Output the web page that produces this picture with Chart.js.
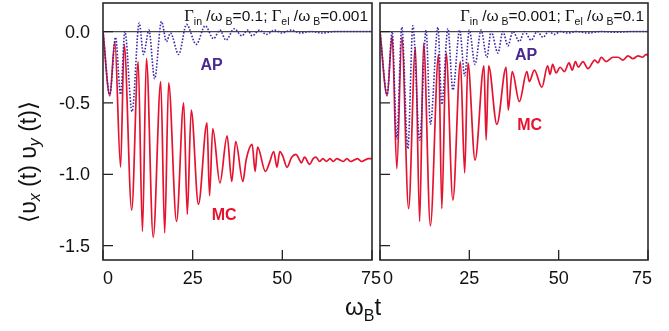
<!DOCTYPE html>
<html>
<head>
<meta charset="utf-8">
<script src="https://cdn.jsdelivr.net/npm/chart.js@4.4.0/dist/chart.umd.min.js"></script>
<style>
html, body { margin: 0; padding: 0; background: #fff; }
#wrap { position: relative; width: 669px; height: 331px; overflow: hidden; }
#cLeft { position: absolute; left: 0; top: 0; }
#cRight { position: absolute; left: 376px; top: 0; }
#xTitle { position: absolute; left: 300px; width: 126px; top: 295px; text-align: center;
          font: 24px "Liberation Sans", Arial, sans-serif; line-height: 24px; color: #111; }
#xTitle span { font-size: 16px; position: relative; top: 6px; }
</style>
</head>
<body>
<div id="wrap">
  <canvas id="cLeft" width="390" height="331"></canvas>
  <canvas id="cRight" width="293" height="331"></canvas>
  <div id="xTitle">ω<span>B</span>t</div>
</div>
<script>
// axes
const xTicks = [0, 25, 50, 75];
const yTicks = [-1.5, -1.0, -0.5, 0.0];

// left panel: Γin/ωB=0.1, Γel/ωB=0.001  ([ωB t, <vx vy>])
const leftMC = [[0,0],[1.9,-0.45],[3.3,-0.07],[4.9,-0.95],[5.9,-0.09],[8.0,-1.25],[9.8,-0.21],[11.0,-1.40],
  [12.1,-0.19],[14.0,-1.44],[16.1,-0.35],[17.2,-1.41],[18.3,-0.36],[20.5,-1.33],[22.5,-0.50],[23.5,-1.28],
  [24.6,-0.55],[26.6,-1.21],[29.0,-0.64],[29.7,-1.15],[30.6,-0.68],[32.6,-1.06],[34.6,-0.73],[35.9,-1.05],
  [37.0,-0.77],[39.0,-1.05],[39.9,-0.90],[41.6,-0.79],[42.4,-0.98],[43.1,-0.81],[45.3,-0.98],[46.4,-0.92],
  [47.6,-0.84],[48.5,-0.95],[49.3,-0.84],[50.1,-0.87],[51.3,-0.95],[52.6,-0.88],[53.8,-0.86],[54.6,-0.89],
  [55.3,-0.92],[56.2,-0.88],[57.6,-0.93],[58.6,-0.89],[59.4,-0.88],[60.4,-0.91],[61.3,-0.89],[62.3,-0.91],
  [63.3,-0.89],[64.2,-0.91],[65.2,-0.89],[66.1,-0.90],[67.0,-0.91],[68.0,-0.89],[69.0,-0.91],[70.0,-0.90],
  [71.0,-0.89],[72.0,-0.91],[73.0,-0.90],[74.0,-0.89],[75.0,-0.89]];
const leftAP = [[0,0],[1.9,-0.44],[3.5,-0.04],[4.9,-0.44],[6.1,0.0],[8.1,-0.56],[10.1,0.06],[11.3,-0.16],
  [12.8,0.01],[14.4,-0.33],[16.3,0.07],[17.7,-0.07],[18.8,-0.01],[21.1,-0.16],[23.3,0.05],[26.0,-0.09],
  [28.5,0.04],[30.8,-0.05],[32.6,0.01],[34.3,-0.06],[36.6,0.02],[38.7,-0.03],[40.3,0.01],[41.6,-0.03],
  [43.6,0.01],[45.6,-0.02],[47.8,0.01],[50.0,-0.01],[52.5,0.01],[55.0,-0.01],[58.0,0.0],[61.0,-0.01],
  [65.0,0.0],[70.0,0.0],[75.0,0.0]];

// right panel: Γin/ωB=0.001, Γel/ωB=0.1
const rightMC = [[0,0],[2.0,-0.45],[3.4,-0.03],[4.7,-0.96],[6.1,-0.04],[8.0,-1.24],[9.9,-0.11],[11.1,-1.33],
  [12.2,-0.08],[14.1,-1.36],[16.4,-0.16],[17.3,-1.24],[18.5,-0.15],[20.4,-1.18],[22.5,-0.21],[23.7,-0.99],
  [24.6,-0.22],[26.6,-0.90],[29.1,-0.24],[29.7,-0.76],[30.4,-0.24],[32.7,-0.65],[35.3,-0.25],[35.9,-0.55],
  [37.0,-0.28],[39.0,-0.49],[41.1,-0.28],[41.8,-0.35],[43.2,-0.27],[45.3,-0.39],[46.9,-0.24],[47.6,-0.30],
  [48.3,-0.23],[49.3,-0.29],[50.4,-0.25],[51.6,-0.28],[52.9,-0.22],[53.8,-0.27],[54.7,-0.21],[55.5,-0.25],
  [56.8,-0.21],[58.2,-0.26],[60.1,-0.20],[61.0,-0.22],[61.9,-0.18],[63.3,-0.21],[65.2,-0.18],[66.6,-0.18],
  [68.0,-0.20],[69.4,-0.17],[70.8,-0.19],[72.2,-0.17],[73.5,-0.18],[74.5,-0.16],[75.0,-0.17]];
const rightAP = [[0,0],[2.0,-0.44],[3.4,0.0],[4.7,-0.75],[6.1,0.03],[7.8,-0.82],[9.2,0.04],[11.1,-0.76],
  [12.9,0.01],[14.1,-0.65],[16.2,0.03],[17.3,-0.51],[19.0,0.02],[20.4,-0.41],[22.3,0.01],[23.7,-0.31],
  [25.0,0.01],[26.6,-0.23],[28.3,0.01],[29.9,-0.18],[31.1,0.0],[33.0,-0.15],[34.4,0.0],[35.8,-0.10],
  [37.2,0.0],[39.0,-0.07],[40.4,0.0],[42.3,-0.06],[44.0,0.0],[45.6,-0.04],[47.2,0.0],[48.8,-0.02],
  [50.5,0.0],[52.5,-0.01],[55.0,0.0],[58.0,-0.01],[62.0,0.0],[66.0,-0.005],[70.0,0.0],[75.0,0.0]];

const zeroLine = [[0,0],[75,0]];

const RED = '#e5132f';
const PURPLE = '#3b2ba8';
const LABEL_PURPLE = '#47298f';
const SANS = '"Liberation Sans", Arial, sans-serif';
const SERIF = '"Liberation Serif", "Times New Roman", serif';

function pts(arr) { return arr.map(p => ({ x: p[0], y: p[1] })); }

// draw a run of text pieces (with subscripts)
function drawRich(ctx, parts, x, y, align) {
    let total = 0;
    parts.forEach(p => { ctx.font = p.f; total += ctx.measureText(p.t).width; });
    let cx = align === 'right' ? x - total : (align === 'center' ? x - total / 2 : x);
    ctx.textAlign = 'left';
    parts.forEach(p => {
        ctx.font = p.f;
        ctx.fillText(p.t, cx, y + (p.dy || 0));
        cx += ctx.measureText(p.t).width;
    });
}

function header(a, b) {
    const main = '15.5px ' + SANS, sub = '10.5px ' + SANS, gam = '16.5px ' + SERIF;
    return [
        { t: 'Γ', f: gam }, { t: 'in', f: sub, dy: 4 }, { t: ' /', f: main }, { t: 'ω', f: main },
        { t: ' B', f: sub, dy: 4 }, { t: '=' + a + '; ', f: main },
        { t: 'Γ', f: gam }, { t: 'el', f: sub, dy: 4 }, { t: ' /', f: main }, { t: 'ω', f: main },
        { t: ' B', f: sub, dy: 4 }, { t: '=' + b, f: main }
    ];
}

const framePlugin = {
    id: 'frame',
    afterDatasetsDraw(chart, args, opts) {
        const { ctx, chartArea: a, scales: { x, y } } = chart;
        ctx.save();
        // inward tick marks
        ctx.strokeStyle = '#222';
        ctx.lineWidth = 1.3;
        ctx.beginPath();
        xTicks.forEach(v => {
            const px = x.getPixelForValue(v);
            ctx.moveTo(px, a.bottom); ctx.lineTo(px, a.bottom - 10);
        });
        yTicks.forEach(v => {
            const py = y.getPixelForValue(v);
            ctx.moveTo(a.left, py); ctx.lineTo(a.left + 10, py);
        });
        ctx.stroke();
        // box
        ctx.lineWidth = 1.6;
        ctx.strokeStyle = '#2a2a2a';
        ctx.strokeRect(a.left, a.top, a.right - a.left, a.bottom - a.top);
        // x tick labels
        ctx.fillStyle = '#111';
        ctx.font = '18px ' + SANS;
        ctx.textAlign = 'center';
        ctx.textBaseline = 'alphabetic';
        xTicks.forEach((v, i) => {
            let px = x.getPixelForValue(v);
            if (i === 0) px += opts.firstShift;
            if (i === xTicks.length - 1) px += opts.lastShift;
            ctx.fillText(String(v), px, a.bottom + 24);
        });
        // y tick labels
        if (opts.yLabels) {
            ctx.textAlign = 'right';
            ctx.textBaseline = 'middle';
            yTicks.forEach(v => {
                ctx.fillText(v.toFixed(1), a.left - 13, y.getPixelForValue(v) + 1);
            });
        }
        // header
        ctx.textBaseline = 'alphabetic';
        drawRich(ctx, opts.header, a.right - 4, a.top + 18, 'right');
        // series labels
        ctx.font = 'bold 16px ' + SANS;
        ctx.textAlign = 'center';
        ctx.textBaseline = 'middle';
        opts.labels.forEach(l => {
            ctx.fillStyle = l.color;
            ctx.fillText(l.text, x.getPixelForValue(l.x), y.getPixelForValue(l.y));
        });
        // y title (left panel only)
        if (opts.yTitle) {
            ctx.translate(30, 162);
            ctx.rotate(-Math.PI / 2);
            ctx.fillStyle = '#111';
            ctx.textBaseline = 'middle';
            const big = '23px ' + SANS, small = 'italic 16px ' + SANS;
            drawRich(ctx, [
                { t: '⟨υ', f: big }, { t: 'x', f: small, dy: 6 }, { t: ' (t) υ', f: big },
                { t: 'y', f: small, dy: 6 }, { t: ' (t)⟩', f: big }
            ], 0, 0, 'center');
        }
        ctx.restore();
    }
};

function makePanel(id, mc, ap, opts) {
    const ctx = document.getElementById(id);
    return new Chart(ctx, {
        type: 'line',
        data: {
            datasets: [
                { data: pts(zeroLine), borderColor: '#4a4a4a', borderWidth: 1.3, order: 3 },
                { data: pts(mc), borderColor: RED, borderWidth: 1.7, cubicInterpolationMode: 'monotone', order: 2 },
                { data: pts(ap), borderColor: PURPLE, borderWidth: 1.6, borderDash: [1.6, 1.6],
                  borderCapStyle: 'butt', cubicInterpolationMode: 'monotone', order: 1 }
            ]
        },
        options: {
            responsive: false,
            animation: false,
            events: [],
            layout: { padding: { top: 3, right: opts.padRight, left: 0, bottom: 0 } },
            elements: { point: { radius: 0 }, line: { tension: 0.3, borderJoinStyle: 'round' } },
            plugins: {
                legend: { display: false },
                tooltip: { enabled: false },
                frame: opts.frame
            },
            scales: {
                x: {
                    type: 'linear', min: 0, max: 75,
                    grid: { display: false }, border: { display: false },
                    ticks: { display: false },
                    afterBuildTicks: s => { s.ticks = xTicks.map(v => ({ value: v })); },
                    afterFit: s => { s.height = 71; }
                },
                y: {
                    min: -1.6, max: 0.2,
                    grid: { display: false }, border: { display: false },
                    ticks: { display: false },
                    afterBuildTicks: s => { s.ticks = yTicks.map(v => ({ value: v })); },
                    afterFit: s => { s.width = opts.yWidth; }
                }
            }
        },
        plugins: [framePlugin]
    });
}

makePanel('cLeft', leftMC, leftAP, {
    padRight: 18, yWidth: 103,
    frame: {
        firstShift: 5, lastShift: -1, yTitle: true, yLabels: true,
        header: header('0.1', '0.001'),
        labels: [
            { text: 'AP', x: 30.3, y: -0.24, color: LABEL_PURPLE },
            { text: 'MC', x: 33.8, y: -1.29, color: RED }
        ]
    }
});

makePanel('cRight', rightMC, rightAP, {
    padRight: 21, yWidth: 4,
    frame: {
        firstShift: 8, lastShift: -6, yTitle: false, yLabels: false,
        header: header('0.001', '0.1'),
        labels: [
            { text: 'AP', x: 40.9, y: -0.17, color: LABEL_PURPLE },
            { text: 'MC', x: 41.9, y: -0.66, color: RED }
        ]
    }
});
</script>
</body>
</html>
